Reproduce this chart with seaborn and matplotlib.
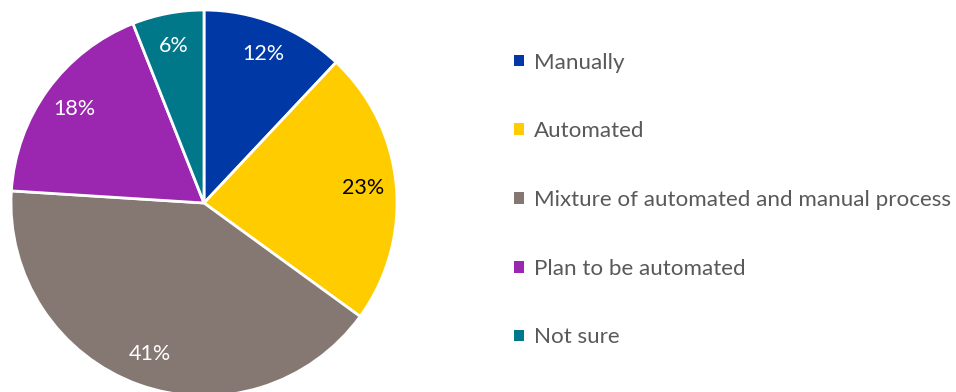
import matplotlib
matplotlib.use("Agg")
import matplotlib.pyplot as plt
from matplotlib.patches import Patch
import seaborn as sns

categories = ["Manually", "Automated", "Mixture of automated and manual process",
              "Plan to be automated", "Not sure"]
shares = [12, 23, 41, 18, 6]
colors = ["#0039A6", "#FFCC00", "#857872", "#9B27B0", "#00788A"]
label_colors = ["white", "black", "white", "white", "white"]

sns.set_theme(style="white")
plt.rcParams["font.family"] = ["Lato", "DejaVu Sans"]

fig = plt.figure(figsize=(9.56, 3.92), dpi=100)
# square axes holding the pie, centred left
ax = fig.add_axes([11 / 956, -4 / 392, 386 / 956, 386 / 392])
wedges, texts, autotexts = ax.pie(
    shares, colors=colors, startangle=90, counterclock=False,
    autopct=lambda p: f"{p:.0f}%", pctdistance=0.83,
    wedgeprops=dict(edgecolor="white", linewidth=2.0),
    textprops=dict(fontsize=15.5),
)
for t, c in zip(autotexts, label_colors):
    t.set_color(c)
ax.set_xlim(-1, 1)
ax.set_ylim(-1, 1)
ax.set_aspect("equal")
ax.axis("off")

handles = [Patch(facecolor=c, edgecolor="none") for c in colors]
fig.legend(handles, categories, loc="center left",
           bbox_to_anchor=(505 / 956, 1 - 200 / 392),
           frameon=False, fontsize=16.1, labelcolor="#595959",
           handlelength=0.43, handleheight=0.43, handletextpad=0.48,
           labelspacing=2.18, borderaxespad=0)

fig.savefig("out.png", dpi=100)
